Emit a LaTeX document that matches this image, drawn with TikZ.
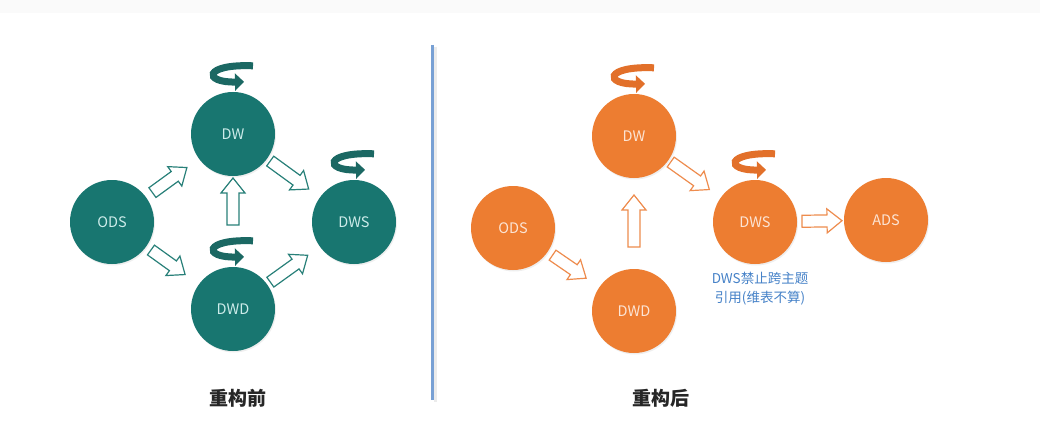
\documentclass[tikz,border=0pt]{standalone}
\usepackage{fontspec}
\setmainfont{Noto Sans CJK SC}
\usetikzlibrary{calc,shadows,arrows.meta}
\definecolor{teal1}{RGB}{24,118,112}
\definecolor{tealtext}{RGB}{205,236,234}
\definecolor{tealline}{RGB}{40,128,121}
\definecolor{tealspin}{RGB}{27,104,99}
\definecolor{or1}{RGB}{237,125,49}
\definecolor{ortext}{RGB}{252,228,212}
\definecolor{orline}{RGB}{238,140,78}
\definecolor{orspin}{RGB}{226,112,42}
\definecolor{divblue}{RGB}{120,160,212}
\definecolor{noteblue}{RGB}{70,130,200}
\tikzset{
  x=1pt, y=-1pt,
  circ/.style={circle, minimum size=84pt, inner sep=0pt,
    font=\fontsize{14.5}{16}\selectfont,
    drop shadow={opacity=0.12, shadow xshift=1pt, shadow yshift=-1.5pt}},
  tealc/.style={circ, fill=teal1, text=tealtext},
  orc/.style={circ, fill=or1, text=ortext},
  barrowst/.style={line width=1.2pt, fill=white, line join=miter},
  spinst/.style={line width=7pt, line cap=butt, -{Triangle[length=9pt,width=17pt]}},
  title/.style={font=\bfseries\fontsize{19}{21}\selectfont, text=black!85},
}
% hollow block arrow from node #2 to node #3, colour #1, gaps #4 / #5
\newcommand\blk[5]{%
  \draw[barrowst, draw=#1] let \p1=($(#2)!#4!(#3)$), \p2=($(#3)!#5!(#2)$),
    \n1={atan2(\y2-\y1,\x2-\x1)}, \n2={veclen(\x2-\x1,\y2-\y1)} in
    ($(\p1)+(\n1+90:6pt)$)
    -- ($(\p1)+(\n1:{\n2-15pt})+(\n1+90:6pt)$)
    -- ($(\p1)+(\n1:{\n2-15pt})+(\n1+90:12pt)$)
    -- ($(\p1)+(\n1:{\n2+0pt})$)
    -- ($(\p1)+(\n1:{\n2-15pt})+(\n1-90:12pt)$)
    -- ($(\p1)+(\n1:{\n2-15pt})+(\n1-90:6pt)$)
    -- ($(\p1)+(\n1-90:6pt)$) -- cycle;}
% self-loop arrow above node #2, colour #1
\newcommand\spin[2]{%
  \coordinate (#2-sp) at ($(#2.north)+(0,-16)$);
  \draw[spinst, draw=#1, fill=none]
    ($(#2-sp)+(20,-10)$) .. controls ($(#2-sp)+(-30,-12)$) and ($(#2-sp)+(-30,7)$) .. ($(#2-sp)+(11,6)$);}
\begin{document}
\begin{tikzpicture}
\useasboundingbox (0,0) rectangle (1040,425);
\fill[white] (0,0) rectangle (1040,425);
\fill[black!2] (0,0) rectangle (1040,13);

% divider
\draw[line width=3pt, black!8] (435,47) -- (435,402);
\draw[line width=3pt, divblue] (432,45) -- (432,400);

% ---------- left ----------
\node[tealc] (lODS) at (112,222) {ODS};
\node[tealc] (lDW)  at (233,134) {DW};
\node[tealc] (lDWD) at (233,309) {DWD};
\node[tealc] (lDWS) at (354,222) {DWS};

\blk{tealline}{lODS}{lDW}{50pt}{57pt}
\blk{tealline}{lODS}{lDWD}{48pt}{59pt}
\blk{tealline}{lDWD}{lDW}{84pt}{44pt}
\blk{tealline}{lDW}{lDWS}{46pt}{56pt}
\blk{tealline}{lDWD}{lDWS}{46pt}{57pt}

\spin{tealspin}{lDW}
\spin{tealspin}{lDWS}
\spin{tealspin}{lDWD}

\node[title] (t1) at (238,398) {重构前};

% ---------- right ----------
\node[orc] (rODS) at (513,228) {ODS};
\node[orc] (rDW)  at (634,136) {DW};
\node[orc] (rDWD) at (634,311) {DWD};
\node[orc] (rDWS) at (755,222) {DWS};
\node[orc] (rADS) at (886,220) {ADS};

\blk{orline}{rODS}{rDWD}{48pt}{58pt}
\blk{orline}{rDWD}{rDW}{64pt}{59pt}
\blk{orline}{rDW}{rDWS}{45pt}{56pt}
\blk{orline}{rDWS}{rADS}{47pt}{44pt}

\spin{orspin}{rDW}
\spin{orspin}{rDWS}

\node[align=center, text=noteblue, font=\fontsize{13.5}{19}\selectfont] (note) at (760,289) {DWS禁止跨主题\\引用(维表不算)};

\node[title] (t2) at (661,398) {重构后};
\end{tikzpicture}
\end{document}
